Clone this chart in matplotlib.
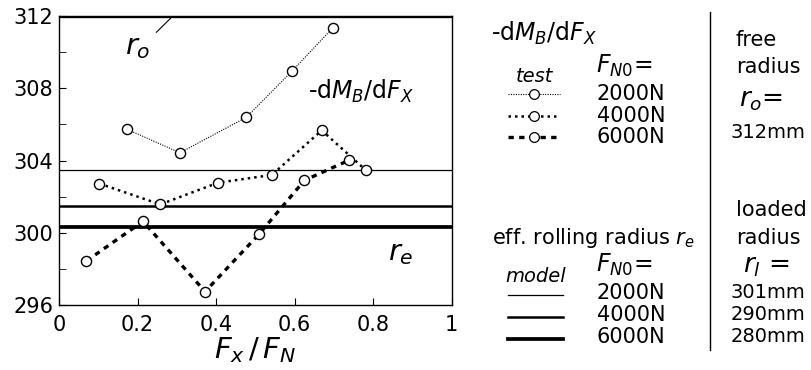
import numpy as np
import matplotlib
matplotlib.use('Agg')
import matplotlib.pyplot as plt
from matplotlib.lines import Line2D

plt.rcParams['font.family'] = 'DejaVu Sans'
plt.rcParams['mathtext.fontset'] = 'dejavusans'

# measured -dMB/dFx, tyre radius in mm vs Fx/FN
x_2000 = [0.172, 0.308, 0.477, 0.593, 0.697]
y_2000 = [305.74, 304.43, 306.39, 308.94, 311.34]
x_4000 = [0.103, 0.258, 0.405, 0.542, 0.669, 0.781]
y_4000 = [302.72, 301.57, 302.77, 303.20, 305.67, 303.47]
x_6000 = [0.070, 0.214, 0.372, 0.509, 0.625, 0.738]
y_6000 = [298.44, 300.63, 296.74, 299.91, 302.90, 304.01]

# model eff. rolling radius
r_e_model = [303.5, 301.5, 300.3]
r_free = 312.0
loads = ['2000N', '4000N', '6000N']
loaded_radius = ['301mm', '290mm', '280mm']

test_styles = [dict(lw=0.8, ls=(0, (1, 1.2))),
               dict(lw=1.8, ls=(0, (1, 1.6))),
               dict(lw=2.4, ls=(0, (1.6, 1.6)))]
model_lw = [0.9, 1.8, 2.7]

fig = plt.figure(figsize=(8.11, 3.70), dpi=100)
ax = fig.add_axes([0.0727, 0.1757, 0.4843, 0.781])

for xs, ys, st in zip([x_2000, x_4000, x_6000], [y_2000, y_4000, y_6000], test_styles):
    ax.plot(xs, ys, color='black', marker='o', ms=7.3, mfc='white', mec='black',
            mew=1.0, **st)

for r, lw in zip(r_e_model, model_lw):
    ax.axhline(r, color='black', lw=lw, zorder=1)
ax.axhline(r_free, color='black', lw=2.4, zorder=1)

ax.set_xlim(0, 1)
ax.set_ylim(296, 312)
ax.set_xticks([0, 0.2, 0.4, 0.6, 0.8, 1])
ax.set_xticklabels(['0', '0.2', '0.4', '0.6', '0.8', '1'])
ax.set_yticks([296, 300, 304, 308, 312])
ax.set_yticks(np.arange(296, 313, 2), minor=True)
ax.tick_params(direction='in', length=5, labelsize=15, top=False, right=False)
ax.tick_params(axis='x', pad=7)
ax.tick_params(axis='y', pad=4)
ax.tick_params(which='minor', direction='in', length=5, top=False, right=False)
for s in ax.spines.values():
    s.set_linewidth(1.0)

ax.set_xlabel(r'$F_x\,/\,F_N$', fontsize=21, labelpad=0)

ax.plot([0.248, 0.29], [311.1, 312], color='black', lw=0.8)
ax.text(0.2, 310.3, r'$r_o$', fontsize=21, ha='center', va='center')
ax.text(0.87, 298.9, r'$r_e$', fontsize=21, ha='center', va='center')
ax.text(0.77, 307.8, r'-d$M_B$/d$F_X$', fontsize=17, ha='center', va='center')

# legend area on the right, figure pixel coordinates
W, H = 811, 370
def ft(x, y, s, **kw):
    fig.text(x / W, 1 - y / H, s, **kw)

def fl(x0, x1, y, **kw):
    fig.add_artist(Line2D([x0 / W, x1 / W], [1 - y / H, 1 - y / H],
                          transform=fig.transFigure, color='black', **kw))

ft(491, 33, r'-d$M_B$/d$F_X$', fontsize=17, va='center')
ft(534, 77, 'test', fontsize=14, style='italic', ha='center', va='center')
ft(596, 66, r'$F_{N0}$=', fontsize=17, va='center')
for i, (lab, st) in enumerate(zip(loads, test_styles)):
    y = [94, 116, 137][i]
    fl(508, 560, y, **st)
    fig.add_artist(Line2D([534 / W], [1 - y / H], transform=fig.transFigure,
                          marker='o', ms=7, mfc='white', mec='black', mew=0.9))
    ft(597, y, lab, fontsize=15, va='center')

ft(492, 238, r'eff. rolling radius $r_e$', fontsize=15, va='center')
ft(536, 277, 'model', fontsize=14, style='italic', ha='center', va='center')
ft(596, 265, r'$F_{N0}$=', fontsize=17, va='center')
for i, (lab, lw) in enumerate(zip(loads, model_lw)):
    y = [295, 317, 339][i]
    fl(508, 563, y, lw=lw)
    ft(597, [293, 315, 337][i], lab, fontsize=15, va='center')

fig.add_artist(Line2D([710 / W, 710 / W], [1 - 12 / H, 1 - 350 / H],
                      transform=fig.transFigure, color='black', lw=1.0))

ft(736, 40, 'free', fontsize=15, va='center')
ft(736, 67, 'radius', fontsize=15, va='center')
ft(739, 100, r'$r_o$=', fontsize=19, va='center')
ft(731, 133, '%dmm' % r_free, fontsize=14, va='center')

ft(736, 210, 'loaded', fontsize=15, va='center')
ft(736, 238, 'radius', fontsize=15, va='center')
ft(743, 266, r'$r_l$ =', fontsize=19, va='center')
for lab, y in zip(loaded_radius, [293, 315, 337]):
    ft(731, y, lab, fontsize=14, va='center')

fig.savefig('out.png', dpi=100)
